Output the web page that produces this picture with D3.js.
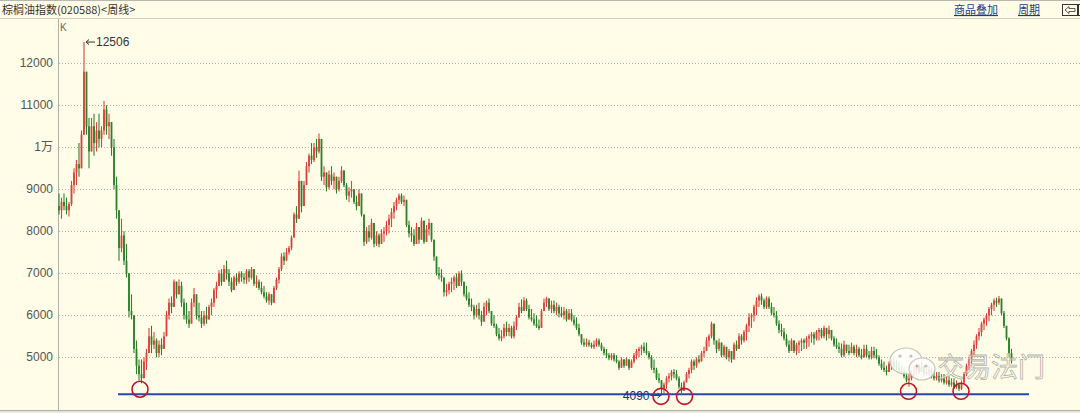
<!DOCTYPE html>
<html>
<head>
<meta charset="utf-8">
<script src="https://cdn.jsdelivr.net/npm/d3@7"></script>
<style>
  html, body { margin: 0; padding: 0; background: #fffde8; }
  svg { display: block; }
</style>
</head>
<body>
<svg id="canvas" width="1080" height="413"></svg>
<script>
// weekly palm oil index (open = previous close)
let firstOpen = 8600

let closes = [
  8500,8700,8600,8500,8650,9100,9400,9600,9500,10300,11800,10500,9900,10500,10100,10400,10200,10400,10900,10500,
  10600,10000,9100,8500,7600,7900,7300,7000,6100,6000,5200,4800,4600,4500,4900,5100,5500,5300,5400,5100,
  5300,5200,5500,6000,6300,6200,6800,6500,6700,6300,6000,5900,5800,6300,6500,6000,5950,5800,6000,5900,
  6200,6300,6600,6700,7000,6800,7100,7000,6800,6600,6900,6800,7000,6900,6850,7050,6900,7100,6750,6800,
  6650,6550,6450,6350,6500,6300,6650,6850,7100,7400,7300,7500,7600,7850,8400,8300,9200,8600,9100,9550,
  9800,9700,10000,9900,10200,9300,9400,9050,9350,9200,9300,9000,9200,9450,9100,8850,8950,9000,8700,8600,
  8900,8400,7750,8000,7850,8200,7700,7900,7700,7950,8000,8150,8300,8450,8600,8750,8850,8700,8750,8150,
  7950,7900,7700,8100,7800,8250,7750,8050,8200,7800,7400,7000,6950,6900,6550,6600,6750,6800,6900,6700,
  7000,6800,6500,6400,6250,6200,6000,6150,6000,5850,6200,6300,6100,5800,5750,5550,5450,5500,5700,5600,
  5700,5500,5750,5950,6200,6100,6350,6150,5950,5900,5800,5750,5700,6100,6300,6400,6150,6250,6100,6200,
  6050,6000,6100,5900,6050,5900,5800,5700,5550,5350,5300,5350,5300,5250,5300,5400,5300,5200,5100,5050,
  4980,5050,4950,4900,4750,4950,4800,4950,4750,4900,5050,5150,5200,5250,5150,5100,5000,4750,4700,4500,
  4450,4250,4350,4500,4550,4650,4600,4500,4300,4200,4400,4600,4700,4900,4800,4950,4900,5100,5150,5400,
  5500,5800,5400,5200,5350,5050,5250,5000,5150,4950,5300,5200,5500,5400,5600,5750,5950,6000,6200,6350,
  6450,6350,6200,6400,6200,6050,6000,5800,5650,5600,5450,5300,5150,5400,5150,5300,5350,5400,5350,5450,
  5500,5550,5450,5600,5650,5500,5700,5550,5650,5450,5300,5250,5200,5050,5300,5150,5100,5250,5100,5200,
  5050,5000,5200,5050,5000,5150,5050,5000,4850,4750,4700,4650,4850,4900,4800,4750,4700,4650,4550,4450,
  4500,4650,4700,4800,4650,4800,4600,4650,4700,4550,4500,4550,4450,4500,4400,4450,4350,4400,4300,4350,
  4250,4400,4600,4800,4950,5150,5300,5500,5600,5800,5900,6000,6150,6250,6350,6300,6400,6050,5750,5450,5100,4950
]

let highs = [
  8900,8800,8900,8800,8700,9200,9500,9700,10100,10400,12506,11300,10700,10700,10800,10600,10800,10500,11100,11000,
  10800,10600,10200,9300,8400,8300,8000,7700,6700,6500,5900,5400,4950,4950,5000,5200,5700,5750,5600,5450,
  5400,5450,5600,6100,6400,6450,6850,6800,6850,6800,6400,6300,6100,6400,6650,6400,6300,6100,6100,6200,
  6250,6400,6650,6800,7070,7100,7200,7300,7100,6900,6950,7000,7050,7050,7000,7100,7100,7150,7050,6950,
  6850,6800,6700,6550,6550,6450,6700,6900,7150,7480,7500,7600,7650,7900,8450,8600,9450,9200,9200,9650,
  9850,10100,10100,10200,10330,10200,9550,9400,9450,9550,9400,9250,9300,9550,9450,9150,9050,9200,9000,8850,
  9000,8900,8300,8100,8150,8300,7950,8000,7950,8050,8100,8250,8400,8550,8700,8800,8900,8900,8850,8400,
  8250,8100,8050,8200,8100,8330,8000,8150,8300,8150,7750,7350,7150,7100,6900,6750,6800,6900,6950,7000,
  7050,7070,6800,6700,6550,6400,6250,6250,6300,6100,6300,6350,6400,6100,6000,5800,5700,5650,5800,5850,
  5800,5750,5850,6000,6300,6380,6430,6400,6250,6150,6050,6000,5900,6150,6400,6440,6400,6350,6350,6300,
  6250,6200,6200,6150,6150,6150,6000,5950,5800,5500,5450,5450,5420,5350,5400,5450,5450,5350,5250,5200,
  5100,5100,5100,5050,4930,5000,4950,5000,4950,4950,5100,5200,5250,5300,5350,5350,5150,5050,4950,4750,
  4620,4460,4400,4550,4620,4700,4720,4700,4550,4400,4450,4650,4750,4950,4950,5000,5050,5150,5250,5480,
  5550,5850,5700,5400,5450,5350,5300,5200,5200,5150,5350,5400,5570,5550,5650,5800,6050,6050,6250,6430,
  6500,6520,6400,6450,6450,6300,6200,6100,5880,5800,5700,5550,5400,5450,5400,5350,5400,5450,5450,5500,
  5550,5600,5600,5650,5700,5700,5750,5700,5750,5650,5500,5450,5350,5330,5400,5300,5300,5350,5300,5300,
  5250,5200,5300,5300,5150,5250,5250,5200,5050,4950,4900,4800,4900,4950,5000,4950,4900,4800,4750,4650,
  4600,4700,4800,4850,4850,4900,4800,4750,4800,4750,4700,4650,4650,4600,4600,4550,4550,4500,4500,4450,
  4400,4450,4650,4850,5000,5200,5400,5550,5700,5850,5950,6050,6200,6300,6400,6420,6460,6400,6100,5750,5480,5200
]

let lows = [
  8400,8300,8500,8400,8350,8600,8900,9100,9300,9600,10300,10300,9500,9900,9800,9900,10000,10000,10300,10300,
  10200,9800,9000,8300,7300,7500,7200,6900,5950,5900,5100,4600,4450,4380,4500,4700,5100,5100,5200,5000,
  5000,5050,5200,5500,5900,6050,6500,6400,6500,6200,5900,5800,5700,5900,6200,5900,5850,5700,5750,5800,
  5900,6000,6200,6400,6750,6700,6800,6850,6700,6550,6600,6700,6750,6800,6750,6750,6800,6850,6700,6650,
  6600,6500,6400,6300,6250,6240,6350,6600,6760,7050,7200,7300,7450,7550,7950,8200,8300,8450,8600,9150,
  9400,9600,9650,9750,9850,9200,9100,8950,9000,9100,9000,8900,8950,9150,9050,8750,8700,8800,8650,8500,
  8600,8350,7650,7700,7750,7800,7620,7650,7620,7700,7750,7900,7950,8100,8300,8500,8650,8650,8600,8100,
  7850,7750,7650,7800,7700,7950,7700,7800,7900,7750,7300,6950,6850,6800,6450,6450,6500,6550,6600,6650,
  6700,6700,6450,6350,6200,6100,5900,5950,5900,5750,5900,6000,6050,5750,5700,5500,5400,5380,5450,5500,
  5500,5450,5450,5650,5950,6050,6200,6100,5900,5850,5750,5700,5650,5800,6100,6200,6100,6050,6050,6000,
  5950,5950,5900,5850,5900,5850,5750,5650,5500,5300,5250,5250,5250,5210,5200,5250,5250,5150,5050,4980,
  4930,4930,4900,4860,4700,4750,4750,4800,4700,4750,4850,4950,5000,5050,5100,5050,4950,4700,4620,4460,
  4380,4090,4150,4250,4400,4450,4500,4450,4250,4150,4200,4400,4500,4620,4700,4750,4850,4900,5000,5200,
  5250,5450,5300,5100,5150,5000,5000,4950,4900,4870,5000,5150,5250,5300,5350,5400,5600,5700,5850,6000,
  6200,6250,6150,6150,6150,6000,5950,5750,5570,5500,5400,5250,5100,5150,5100,5050,5100,5150,5200,5200,
  5250,5350,5300,5400,5400,5450,5450,5400,5450,5400,5250,5200,5100,5000,5000,5100,5050,5100,5050,5000,
  5000,4950,5000,5000,4950,4950,4980,4950,4800,4700,4650,4570,4650,4700,4750,4700,4650,4620,4500,4400,
  4300,4450,4550,4600,4600,4650,4550,4550,4550,4500,4450,4450,4400,4400,4350,4350,4300,4300,4250,4250,
  4200,4220,4350,4550,4700,4850,5050,5200,5400,5500,5650,5750,5850,6000,6100,6200,6250,6000,5700,5400,5000,4850
]

let tickValues = [12000, 11000, 10000, 9000, 8000, 7000, 6000, 5000]
let tickLabels = ['12000', '11000', '1万', '9000', '8000', '7000', '6000', '5000']

// support line and the circled lows (candle index, price)
let supportLevel = 4120
let supportFrom = 23.6, supportTo = 388
let circleIdx = [32.4, 240.8, 250.2, 339.8, 360.8]
let circleVal = [4240, 4070, 4070, 4190, 4190]

let width = 1080, height = 413
let canvas = d3.select('#canvas')

let candles = closes.map((c, i) => {
  let o = i === 0 ? firstOpen : closes[i - 1]
  return { i: i, o: o, c: c, h: Math.max(highs[i], o, c), l: Math.min(lows[i], o, c) }
})

let x = d3.scaleLinear().domain([0, closes.length - 1]).range([59, 1011.5])
let y = d3.scaleLinear().domain([5000, 12000]).range([357.3, 63.3])

canvas.append('rect').attr('width', width).attr('height', height).attr('fill', '#fffde8')

// header bar
canvas.append('line').attr('x1', 0).attr('x2', width).attr('y1', 0.5).attr('y2', 0.5).attr('stroke', '#b8b8b0')
canvas.append('line').attr('x1', 0).attr('x2', width).attr('y1', 18.5).attr('y2', 18.5).attr('stroke', '#cfcfc4')
canvas.append('text')
  .attr('x', 2).attr('y', 14)
  .attr('font-family', '"Noto Sans CJK SC", sans-serif')
  .attr('font-size', 11).attr('fill', '#333')
  .text('棕榈油指数(020588)<周线>')

let links = [['商品叠加', 954], ['周期', 1018]]
links.forEach(l => {
  canvas.append('text')
    .attr('x', l[1]).attr('y', 14)
    .attr('font-family', '"Noto Sans CJK SC", sans-serif')
    .attr('font-size', 11).attr('fill', '#1d3c86')
    .attr('text-decoration', 'underline')
    .text(l[0])
})
canvas.append('rect').attr('x', 1062.5).attr('y', 4.5).attr('width', 15).attr('height', 11)
  .attr('fill', 'none').attr('stroke', '#333')
canvas.append('path').attr('d', 'M1065,10 L1069,6.5 L1069,8.5 L1075,8.5 L1075,11.5 L1069,11.5 L1069,13.5 Z')
  .attr('fill', 'none').attr('stroke', '#333').attr('stroke-width', 0.8)
canvas.append('rect').attr('x', 1078.5).attr('y', 4.5).attr('width', 6).attr('height', 11)
  .attr('fill', 'none').attr('stroke', '#333')

// grid + y labels
canvas.append('g')
  .selectAll('line')
  .data(tickValues)
  .enter()
  .append('line')
  .attr('x1', 59).attr('x2', width)
  .attr('y1', d => Math.round(y(d)) + 0.5).attr('y2', d => Math.round(y(d)) + 0.5)
  .attr('stroke', '#b4b4a8')
  .attr('stroke-dasharray', '1,2')

canvas.append('g')
  .selectAll('text')
  .data(tickValues)
  .enter()
  .append('text')
  .attr('x', 53)
  .attr('y', d => y(d) + 4)
  .attr('text-anchor', 'end')
  .attr('font-family', '"Liberation Sans", "Noto Sans CJK SC", sans-serif')
  .attr('font-size', 12)
  .attr('fill', '#555')
  .text((d, i) => tickLabels[i])

canvas.append('text').attr('x', 60).attr('y', 31)
  .attr('font-family', '"Liberation Sans", sans-serif').attr('font-size', 10).attr('fill', '#666')
  .text('K')

// axis frame
canvas.append('line').attr('x1', 58.5).attr('x2', 58.5).attr('y1', 19).attr('y2', 411).attr('stroke', '#b0b0a8')
canvas.append('line').attr('x1', 0).attr('x2', width).attr('y1', 410.5).attr('y2', 410.5).attr('stroke', '#b0b0a8')
canvas.append('rect').attr('x', 0).attr('y', 411).attr('width', width).attr('height', 2).attr('fill', '#e6e6dc')

// candles
let upColor = '#d9443a', downColor = '#2c8229'
let cg = canvas.append('g').attr('class', 'candles')
cg.selectAll('line')
  .data(candles)
  .enter()
  .append('line')
  .attr('x1', d => x(d.i)).attr('x2', d => x(d.i))
  .attr('y1', d => y(d.h)).attr('y2', d => y(d.l))
  .attr('stroke', d => d.c >= d.o ? upColor : downColor)
  .attr('stroke-width', 1.1)
cg.selectAll('rect')
  .data(candles)
  .enter()
  .append('rect')
  .attr('x', d => x(d.i) - 0.9)
  .attr('width', 1.8)
  .attr('y', d => y(Math.max(d.o, d.c)))
  .attr('height', d => Math.max(1, Math.abs(y(d.o) - y(d.c))))
  .attr('fill', d => d.c >= d.o ? upColor : downColor)

// max / min annotations
let hiIdx = d3.maxIndex(candles, d => d.h)
let hi = candles[hiIdx]
canvas.append('path')
  .attr('d', `M${x(hiIdx) + 2},${y(hi.h)} L${x(hiIdx) + 11},${y(hi.h)} M${x(hiIdx) + 2},${y(hi.h)} L${x(hiIdx) + 5},${y(hi.h) - 2.5} M${x(hiIdx) + 2},${y(hi.h)} L${x(hiIdx) + 5},${y(hi.h) + 2.5}`)
  .attr('stroke', '#333').attr('fill', 'none')
canvas.append('text')
  .attr('x', x(hiIdx) + 12).attr('y', y(hi.h) + 4)
  .attr('font-family', '"Liberation Sans", sans-serif').attr('font-size', 12).attr('fill', '#333')
  .text(hi.h)

let loIdx = d3.minIndex(candles, d => d.l)
let lo = candles[loIdx]
canvas.append('path')
  .attr('d', `M${x(loIdx) - 11},${y(lo.l)} L${x(loIdx) - 1},${y(lo.l)} M${x(loIdx) - 1},${y(lo.l)} L${x(loIdx) - 4},${y(lo.l) - 2.5} M${x(loIdx) - 1},${y(lo.l)} L${x(loIdx) - 4},${y(lo.l) + 2.5}`)
  .attr('stroke', '#1c2f80').attr('fill', 'none')

// support line
canvas.append('line')
  .attr('x1', x(supportFrom)).attr('x2', x(supportTo))
  .attr('y1', y(supportLevel)).attr('y2', y(supportLevel))
  .attr('stroke', '#2a44b4').attr('stroke-width', 2)

canvas.append('text')
  .attr('x', x(loIdx) - 12).attr('y', y(lo.l) + 4)
  .attr('text-anchor', 'end')
  .attr('font-family', '"Liberation Sans", sans-serif').attr('font-size', 12).attr('fill', '#1c2f80')
  .text(lo.l)

// red circles on the lows
canvas.append('g')
  .selectAll('circle')
  .data(circleIdx)
  .enter()
  .append('circle')
  .attr('cx', d => x(d))
  .attr('cy', (d, i) => y(circleVal[i]))
  .attr('r', 8)
  .attr('fill', 'none')
  .attr('stroke', '#c4122c')
  .attr('stroke-width', 1.6)

// watermark
let wm = canvas.append('g').attr('opacity', 0.85)
wm.append('ellipse').attr('cx', 906).attr('cy', 361).attr('rx', 16).attr('ry', 13)
  .attr('fill', '#ffffff').attr('stroke', '#bdbdb5').attr('stroke-width', 1.2)
wm.append('ellipse').attr('cx', 922).attr('cy', 369).attr('rx', 13).attr('ry', 11)
  .attr('fill', '#ffffff').attr('stroke', '#bdbdb5').attr('stroke-width', 1.2)
;[[900, 356], [911, 356], [917, 366], [926, 366]].forEach(p => {
  wm.append('circle').attr('cx', p[0]).attr('cy', p[1]).attr('r', 1.6).attr('fill', '#b8b8b0')
})
wm.append('text')
  .attr('x', 937).attr('y', 377)
  .attr('font-family', '"Noto Sans CJK SC", sans-serif')
  .attr('font-size', 27)
  .attr('fill', '#ffffff').attr('fill-opacity', 0.55)
  .attr('stroke', '#a8a8a0').attr('stroke-width', 0.8)
  .text('交易法门')
</script>
</body>
</html>
